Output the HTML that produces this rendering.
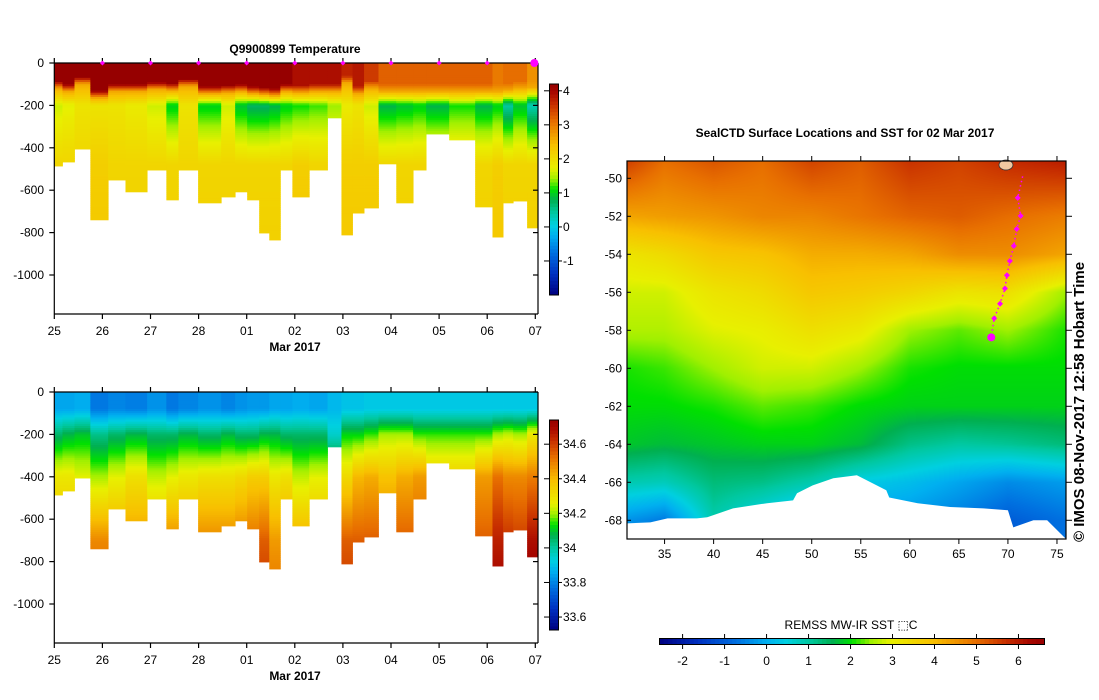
<!DOCTYPE html>
<html><head><meta charset="utf-8">
<style>
html,body{margin:0;padding:0;background:#fff;}
svg{display:block;font-family:"Liberation Sans",sans-serif;}
#wrap{position:relative;width:1099px;height:700px;}
canvas{position:absolute;left:627px;top:161px;}
#overlay{position:absolute;left:0;top:0;}
</style></head>
<body>
<div id="wrap">
<canvas id="sst" width="439" height="378"></canvas>
<svg id="overlay" width="1099" height="700" xmlns="http://www.w3.org/2000/svg"></svg>
</div>
<script>
// ---------------- data ----------------
const colEdges=[0,0.17,0.42,0.75,1.12,1.48,1.93,2.33,2.58,2.99,3.47,3.76,4.01,4.26,4.47,4.70,4.95,5.30,5.68,5.97,6.20,6.44,6.74,7.11,7.46,7.73,8.21,8.75,9.11,9.33,9.54,9.83,10.04];
const maxDepth=[486,467,406,740,552,608,505,646,505,660,632,608,646,802,835,505,632,505,259,811,708,684,476,660,505,335,363,679,821,660,651,778];
const tSurf=[4.2,4.2,4.2,4.2,4.2,4.2,4.2,4.2,4.2,4.2,4.2,4.2,4.2,4.2,4.2,4.2,3.9,3.9,3.9,3.7,3.8,3.5,3.2,3.2,3.2,3.2,3.2,3.2,3.0,3.1,3.1,2.8];
const mld=[85,100,65,130,100,100,90,95,75,110,105,100,110,115,120,100,105,100,100,60,110,85,100,100,100,100,100,100,100,95,85,80];
const tMin=[1.6,1.7,1.9,1.9,1.9,1.8,1.6,1.0,1.9,1.0,1.6,0.9,0.7,0.7,0.8,1.0,1.1,1.2,1.4,1.8,1.9,1.6,0.8,0.9,1.0,0.8,1.1,0.8,1.0,0.4,0.9,0.3];
const tDeep=[2.1,2.1,2.1,2.2,2.1,2.1,2.1,2.1,2.1,2.1,2.1,2.1,2.1,2.1,2.1,2.1,2.2,2.1,2.1,2.2,2.2,2.2,2.1,2.1,2.1,2.1,2.1,2.1,2.2,2.1,2.1,2.1];
const s0=[33.85,33.85,33.86,33.78,33.8,33.79,33.82,33.78,33.8,33.82,33.8,33.82,33.83,33.83,33.85,33.85,33.86,33.85,33.88,33.9,33.9,33.91,33.91,33.91,33.91,33.91,33.91,33.91,33.91,33.91,33.91,33.91];
const s200=[34.05,34.08,34.1,34.02,34.05,34.08,34.05,34.05,34.08,34.05,34.08,34.05,34.05,34.08,34.08,34.05,34.05,34.05,33.95,34.12,34.12,34.15,34.2,34.2,34.15,34.15,34.15,34.15,34.2,34.22,34.2,34.28];
const s400=[34.28,34.28,34.25,34.2,34.25,34.3,34.22,34.25,34.28,34.3,34.3,34.32,34.35,34.35,34.28,34.3,34.22,34.25,34.2,34.32,34.4,34.42,34.38,34.42,34.45,34.35,34.35,34.45,34.52,34.48,34.48,34.5];
const s700=[34.4,34.4,34.4,34.48,34.45,34.45,34.42,34.48,34.45,34.48,34.48,34.5,34.52,34.55,34.45,34.45,34.42,34.42,34.4,34.55,34.55,34.55,34.5,34.55,34.55,34.45,34.45,34.55,34.65,34.62,34.6,34.68];
const dayLabels=["25","26","27","28","01","02","03","04","05","06","07"];
const depthTicks=[0,-200,-400,-600,-800,-1000];
const tempTicks=[4,3,2,1,0,-1];
const salTicks=[34.6,34.4,34.2,34,33.8,33.6];
const sstTicks=[-2,-1,0,1,2,3,4,5,6];
const lonTicks=[35,40,45,50,55,60,65,70,75];
const latTicks=[-50,-52,-54,-56,-58,-60,-62,-64,-66,-68];
const gridLons=[31,35,40,45,50,55,60,65,70,76];
const gridLats=[-49,-52,-54,-56,-58,-60,-62,-64,-66,-68,-69];
const sstGrid=[
[5.6,5.0,5.3,5.0,5.5,5.2,5.7,5.5,5.8,6.0],
[4.3,4.4,4.5,4.7,4.7,4.9,5.1,5.2,5.0,4.8],
[3.2,3.4,3.8,3.9,4.2,4.2,4.3,4.6,4.6,4.3],
[2.8,2.8,3.2,3.4,3.8,3.7,3.5,3.2,3.3,2.5],
[2.6,2.6,2.9,3.0,3.3,3.1,2.5,2.3,2.5,2.1],
[2.1,2.2,2.5,2.8,2.8,2.5,2.1,2.0,2.0,2.0],
[2.0,2.0,2.1,2.3,2.2,2.0,1.9,1.9,1.9,1.9],
[1.8,1.7,1.8,1.9,1.9,1.7,1.2,1.0,1.1,1.3],
[0.9,0.8,1.3,1.2,0.9,0.4,0.2,-0.1,-0.4,-0.2],
[-0.3,-0.6,0.9,0.3,-0.2,-0.2,-0.3,-0.6,-1.0,-0.7],
[-0.3,-0.6,0.9,0.3,-0.2,-0.2,-0.3,-0.6,-1.0,-0.7]];
const coastLon=[31.17,33.55,35.3,38.3,39.35,41.98,45.45,48.1,48.5,50.1,52.2,54.6,56.2,57.6,57.9,60.8,64.1,67.5,70.0,70.55,72.6,74.0,75.95,75.95,31.17];
const coastLat=[-68.16,-68.11,-67.9,-67.9,-67.84,-67.37,-67.1,-66.95,-66.58,-66.16,-65.79,-65.63,-66.05,-66.42,-66.8,-67.1,-67.3,-67.37,-67.47,-68.37,-68.0,-68.0,-69.0,-69.2,-69.2];
const trackLon=[71.5,71.0,71.3,70.9,70.6,70.2,69.9,69.7,69.2,68.6,68.3];
const trackLat=[-49.9,-51.03,-51.98,-52.67,-53.56,-54.35,-55.1,-55.8,-56.6,-57.37,-58.37];

// ---------------- colormap ----------------
const cmap=[[0,[0,0,128]],[0.1,[0,48,192]],[0.2,[0,112,224]],[0.28,[0,176,240]],[0.33,[0,208,224]],[0.39,[0,200,160]],[0.45,[0,176,80]],[0.5,[0,224,0]],[0.55,[160,240,0]],[0.6,[232,240,0]],[0.71,[248,192,0]],[0.82,[232,112,0]],[0.9,[200,48,0]],[0.96,[168,8,0]],[1,[150,0,0]]];
function col(f){f=Math.max(0,Math.min(1,f));for(let i=1;i<cmap.length;i++){if(f<=cmap[i][0]){const a=cmap[i-1],b=cmap[i],t=(f-a[0])/(b[0]-a[0]);return [0,1,2].map(k=>Math.round(a[1][k]+(b[1][k]-a[1][k])*t));}}return cmap[cmap.length-1][1];}
function rgb(c){return `rgb(${c[0]},${c[1]},${c[2]})`;}
function interp(zs,vs,z){if(z<=zs[0])return vs[0];for(let i=1;i<zs.length;i++){if(z<=zs[i]){const t=(z-zs[i-1])/(zs[i]-zs[i-1]);return vs[i-1]+(vs[i]-vs[i-1])*t;}}return vs[vs.length-1];}

const NS="http://www.w3.org/2000/svg";
const svg=document.getElementById('overlay');
function el(tag,attrs,parent){const e=document.createElementNS(NS,tag);for(const k in attrs)e.setAttribute(k,attrs[k]);(parent||svg).appendChild(e);return e;}
function txt(s,x,y,attrs,parent){const t=el('text',Object.assign({x:x,y:y,'font-size':12,fill:'#000'},attrs||{}),parent);t.textContent=s;return t;}

// ---------------- section plots ----------------
const X0=54.3,PX_DAY=48.1,XR=538;
function xDay(d){return X0+d*PX_DAY;}
function drawSection(top,valueFn,name,cbTop,cbBot,vmin,vmax,ticks,tickFmt){
  const g=el('g',{});
  
  
  const yD=z=>top+z*0.212;
  for(let c=0;c<maxDepth.length;c++){
    const x1=xDay(colEdges[c]),x2=xDay(colEdges[c+1]);
    const colG=el('g',{},g);
    
    
    for(let z=0;z<maxDepth[c];z+=10){
      const z2=Math.min(z+10,maxDepth[c]);
      const v=valueFn(c,z+5);
      el('rect',{x:x1,y:yD(z),width:x2-x1+0.4,height:yD(z2)-yD(z)+0.4,fill:rgb(col((v-vmin)/(vmax-vmin)))},colG);
    }
  }
  const bottom=top+251;
  const ax=el('g',{stroke:'#000','stroke-width':1.2,fill:'none'});
  
  
  el('line',{x1:X0,y1:top,x2:XR,y2:top},ax);
  el('line',{x1:X0,y1:top,x2:X0,y2:bottom},ax);
  el('line',{x1:X0,y1:bottom,x2:XR,y2:bottom},ax);
  el('line',{x1:XR,y1:top,x2:XR,y2:bottom},ax);
  dayLabels.forEach((l,i)=>{
    const x=xDay(i);
    el('line',{x1:x,y1:top-5,x2:x,y2:top},ax);
    el('line',{x1:x,y1:bottom,x2:x,y2:bottom+5},ax);
    const t=txt(l,x,bottom+21,{'text-anchor':'middle'});
    
    
  });
  depthTicks.forEach(d=>{
    const y=yD(-d);
    el('line',{x1:X0-5,y1:y,x2:X0,y2:y},ax);
    el('line',{x1:XR-5,y1:y,x2:XR,y2:y},ax);
    const t=txt(String(d),44,y+4,{'text-anchor':'end'});
    
    
  });
  const xt=txt('Mar 2017',295,bottom+37,{'text-anchor':'middle','font-weight':'bold'});
  
  
  const cb=el('g',{});
  
  
  const n=60,h=(cbBot-cbTop)/n;
  for(let i=0;i<n;i++){const v=vmax-(i+0.5)/n*(vmax-vmin);el('rect',{x:549.5,y:cbTop+i*h,width:9,height:h+0.5,fill:rgb(col((v-vmin)/(vmax-vmin)))},cb);}
  el('rect',{x:549.5,y:cbTop,width:9,height:cbBot-cbTop,fill:'none',stroke:'#000','stroke-width':1},cb);
  ticks.forEach(v=>{
    const y=cbBot-(v-vmin)/(vmax-vmin)*(cbBot-cbTop);
    el('line',{x1:544,y1:y,x2:549,y2:y,stroke:'#000'},cb);
    el('line',{x1:558.5,y1:y,x2:562,y2:y,stroke:'#000'},cb);
    const t=txt(tickFmt(v),563,y+4,{'font-size':12},cb);
    
    
  });
}
function tempAt(c,z){
  const zb=Math.max(mld[c]+70,200);
  return interp([0,mld[c],mld[c]+35,zb,330,480,1000],[tSurf[c],tSurf[c],2.6,tMin[c],(tMin[c]+tDeep[c])/2,tDeep[c],tDeep[c]+0.1],z);
}
function salAt(c,z){return interp([0,80,200,400,700,900],[s0[c],s0[c],s200[c],s400[c],s700[c],s700[c]+0.05],z);}
drawSection(63,tempAt,'temperature',84,295,-2.0,4.2,tempTicks,v=>String(v));
drawSection(392,salAt,'salinity',420,630,33.525,34.74,salTicks,v=>String(v));
for(let i=1;i<dayLabels.length;i++){
  const m=el('path',{d:`M${xDay(i)-2.5},63 L${xDay(i)},60.5 L${xDay(i)+2.5},63 L${xDay(i)},65.5 Z`,fill:'#ff00ff'});
  
  
}
const big=el('circle',{cx:xDay(9.98),cy:63,r:4,fill:'#ff00ff'});


const t1=txt('Q9900899  Temperature',295,53,{'text-anchor':'middle','font-weight':'bold','xml:space':'preserve'});



// ---------------- map ----------------
const MX0=627,MX1=1066,MY0=161,MY1=539;
const LON0=31.17,PX_LON=9.81,LAT0=-49.09,PX_LAT=19;
const lonX=l=>MX0+(l-LON0)*PX_LON;
const latY=l=>MY0+(LAT0-l)*PX_LAT;
const SMIN=-2.55,SMAX=6.62;
(function(){
  const cv=document.getElementById('sst'),ctx=cv.getContext('2d');
  const W=cv.width,H=cv.height,img=ctx.createImageData(W,H);
  for(let py=0;py<H;py++){
    const lat=LAT0-(py+0.5)/PX_LAT;
    let j=0;while(j<gridLats.length-2&&lat<gridLats[j+1])j++;
    const tj=Math.max(0,Math.min(1,(gridLats[j]-lat)/(gridLats[j]-gridLats[j+1])));
    for(let px=0;px<W;px++){
      const lon=LON0+(px+0.5)/PX_LON;
      let i=0;while(i<gridLons.length-2&&lon>gridLons[i+1])i++;
      const ti=Math.max(0,Math.min(1,(lon-gridLons[i])/(gridLons[i+1]-gridLons[i])));
      const a=sstGrid[j][i]*(1-ti)+sstGrid[j][i+1]*ti,b=sstGrid[j+1][i]*(1-ti)+sstGrid[j+1][i+1]*ti;
      const v=a*(1-tj)+b*tj;const c=col((v-SMIN)/(SMAX-SMIN));
      const k=(py*W+px)*4;img.data[k]=c[0];img.data[k+1]=c[1];img.data[k+2]=c[2];img.data[k+3]=255;
    }
  }
  ctx.putImageData(img,0,0);
})();
const land=el('polygon',{points:coastLon.map((l,i)=>lonX(l)+','+latY(coastLat[i])).join(' '),fill:'#fff'});


const isl=el('ellipse',{cx:lonX(69.8),cy:latY(-49.3),rx:7,ry:5,fill:'#f0c8a0',stroke:'#333','stroke-width':0.8});


const tr=el('polyline',{points:trackLon.map((l,i)=>lonX(l)+','+latY(trackLat[i])).join(' '),fill:'none',stroke:'#ff00ff','stroke-width':1.5,'stroke-dasharray':'1.5,3'});


trackLon.forEach((l,i)=>{
  if(i===0)return;
  const x=lonX(l),y=latY(trackLat[i]);
  const last=i===trackLon.length-1;
  const m=last?el('circle',{cx:x,cy:y,r:4,fill:'#ff00ff'}):el('path',{d:`M${x-3},${y} L${x},${y-3} L${x+3},${y} L${x},${y+3} Z`,fill:'#ff00ff'});
  
  
});
const frame=el('rect',{x:MX0,y:MY0,width:MX1-MX0,height:MY1-MY0,fill:'none',stroke:'#000','stroke-width':1.2});


lonTicks.forEach(l=>{
  const x=lonX(l);
  el('line',{x1:x,y1:MY0-5,x2:x,y2:MY0,stroke:'#000'});
  el('line',{x1:x,y1:MY1,x2:x,y2:MY1+5,stroke:'#000'});
  const t=txt(String(l),x,MY1+19,{'text-anchor':'middle'});
  
  
});
latTicks.forEach(l=>{
  const y=latY(l);
  el('line',{x1:MX1,y1:y,x2:MX1+6,y2:y,stroke:'#000'});
  el('line',{x1:MX0,y1:y,x2:MX0+4,y2:y,stroke:'#000'});
  const t=txt(String(l),622,y+4,{'text-anchor':'end'});
  
  
});
const mt=txt('SealCTD Surface Locations and SST for 02 Mar 2017',845,137,{'text-anchor':'middle','font-weight':'bold'});


const cr=txt('© IMOS 08-Nov-2017 12:58 Hobart Time',0,0,{'font-weight':'bold','font-size':15,transform:'translate(1084,542) rotate(-90)'});


const scb=el('g',{});


const CB0=659.5,CB1=1044.5,n=90,w=(CB1-CB0)/n;
for(let i=0;i<n;i++){const v=SMIN+(i+0.5)/n*(SMAX-SMIN);el('rect',{x:CB0+i*w,y:638.5,width:w+0.5,height:6,fill:rgb(col((v-SMIN)/(SMAX-SMIN)))},scb);}
el('rect',{x:CB0,y:638.5,width:CB1-CB0,height:6,fill:'none',stroke:'#000'},scb);
sstTicks.forEach(v=>{
  const x=CB0+(v-SMIN)/(SMAX-SMIN)*(CB1-CB0);
  el('line',{x1:x,y1:634,x2:x,y2:638.5,stroke:'#000'},scb);
  el('line',{x1:x,y1:644.5,x2:x,y2:649,stroke:'#000'},scb);
  const t=txt(String(v),x,665,{'text-anchor':'middle'},scb);
  
  
});
const st=txt('REMSS MW-IR SST \u2B1AC',851,629,{'text-anchor':'middle'});


</script>
</body></html>
